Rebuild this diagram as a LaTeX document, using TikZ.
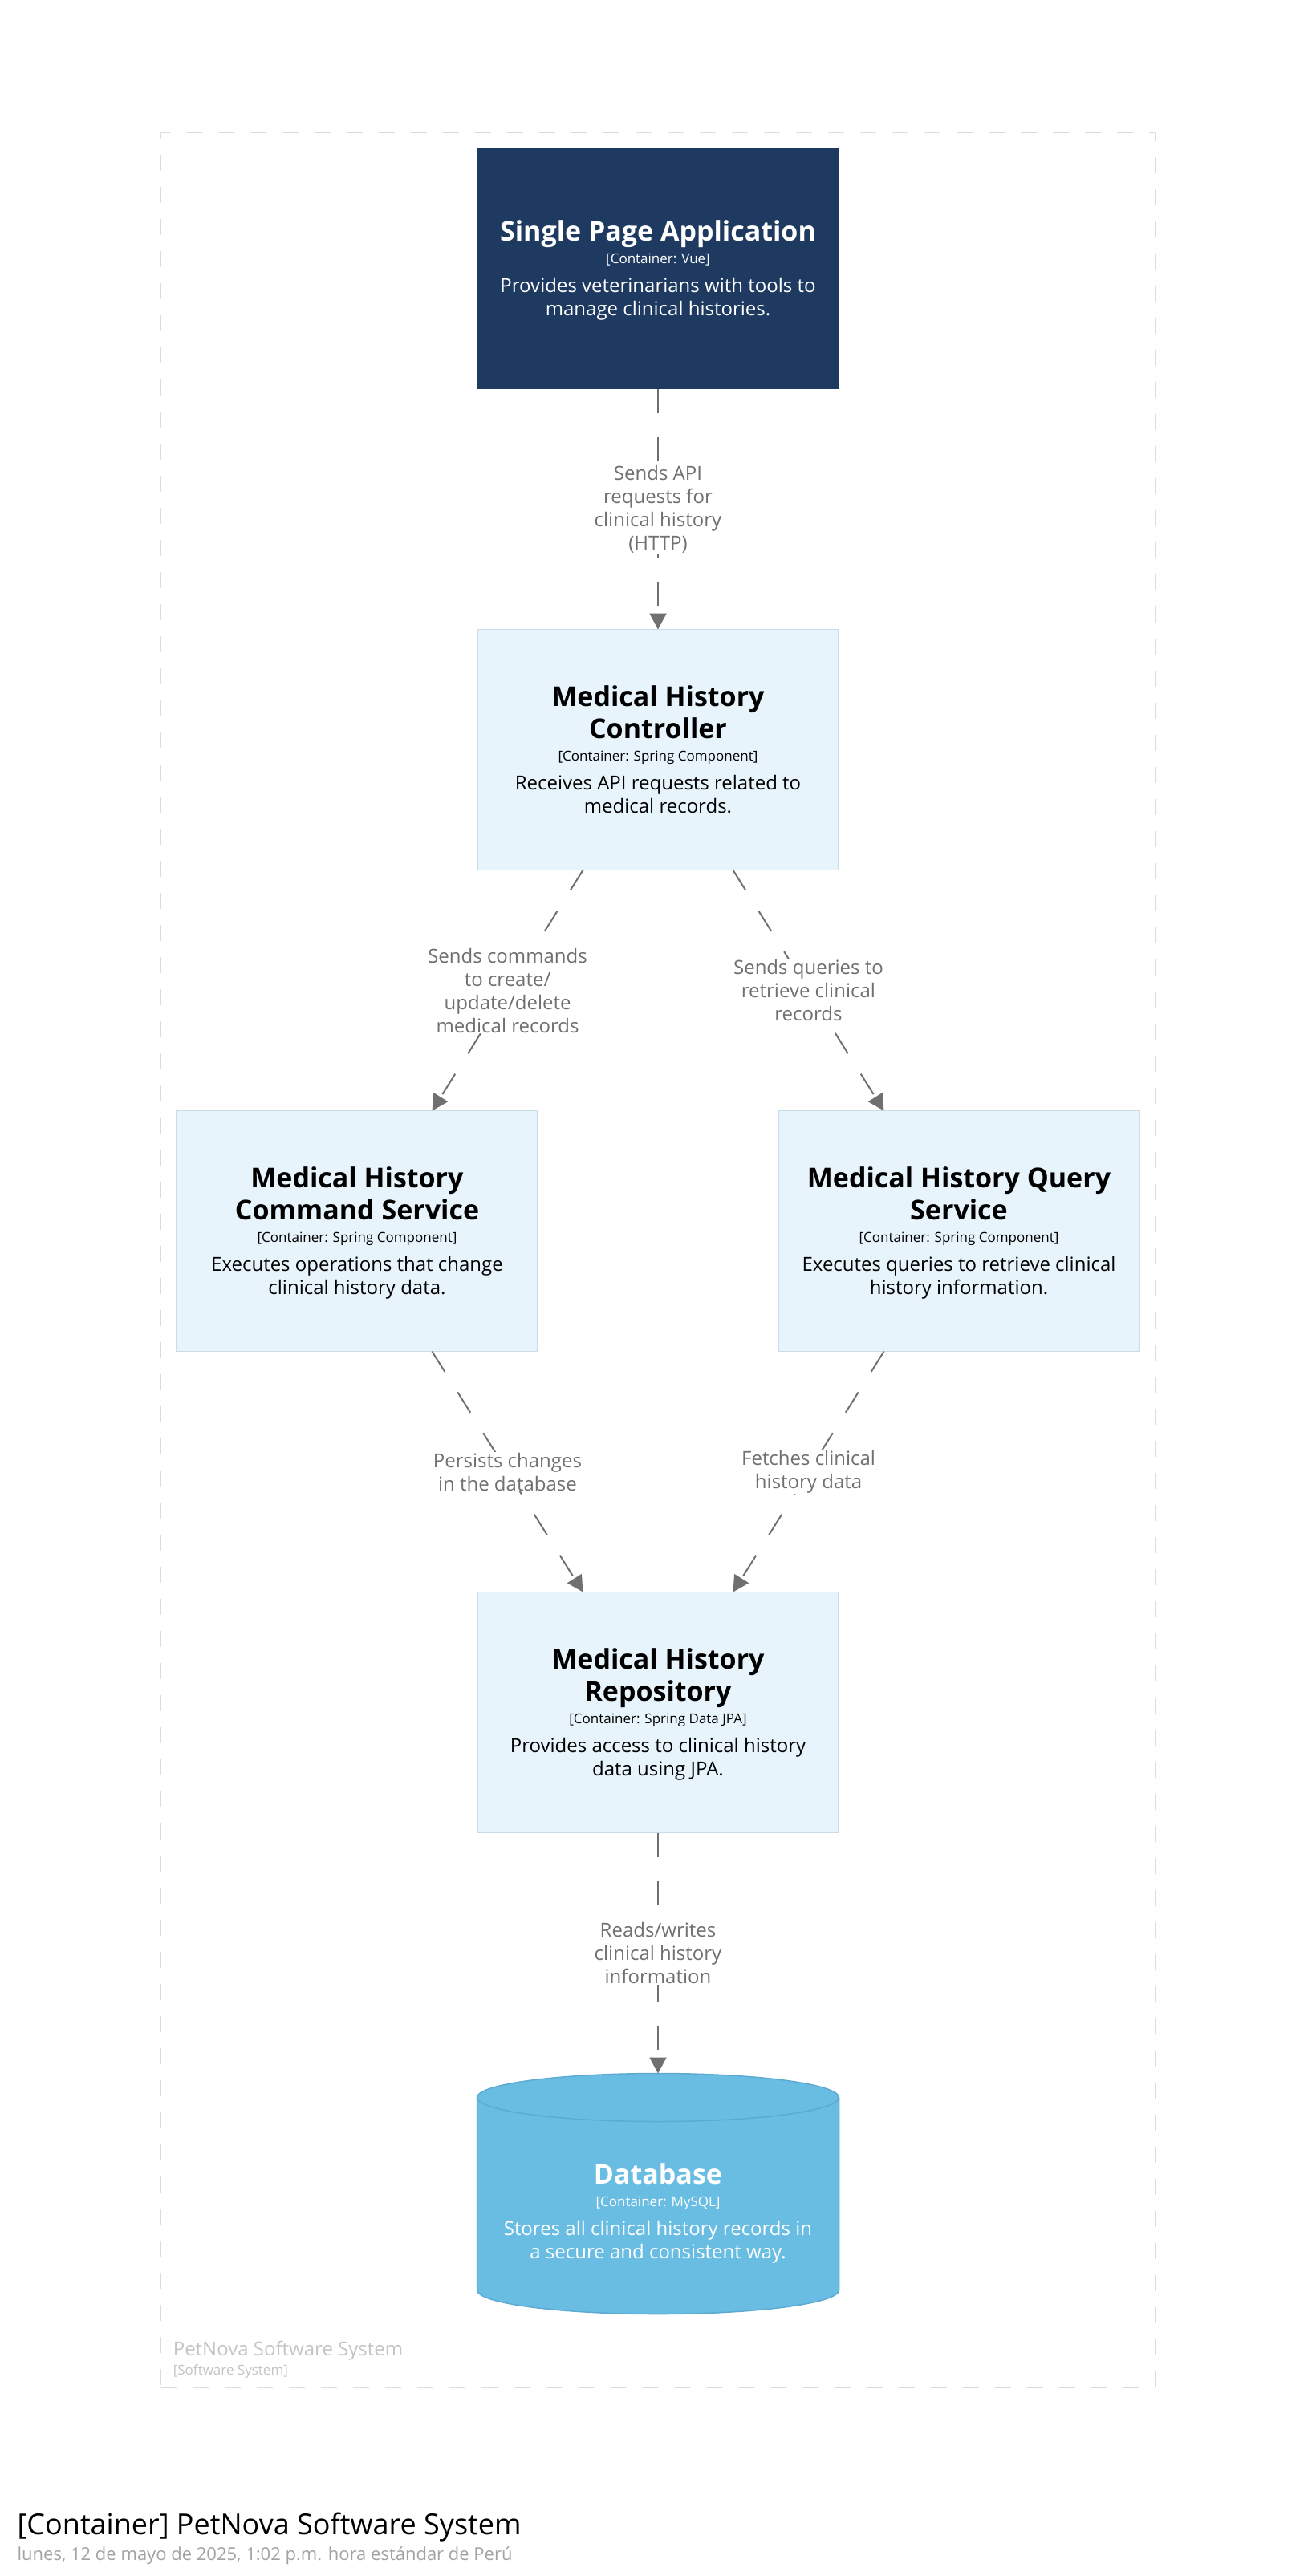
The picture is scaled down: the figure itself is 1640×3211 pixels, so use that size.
\documentclass[tikz,border=0pt]{standalone}
\usepackage{fontspec}
\setmainfont{Open Sans}
\usetikzlibrary{arrows.meta}
\definecolor{spafill}{HTML}{1F3A60}
\definecolor{lightfill}{HTML}{E8F4FB}
\definecolor{lightborder}{HTML}{CBDCE6}
\definecolor{dbfill}{HTML}{6ABDE2}
\definecolor{dbborder}{HTML}{5CAAD2}
\definecolor{relcol}{HTML}{707070}
\definecolor{bndcol}{HTML}{DCDCDC}
\definecolor{bndtext}{HTML}{C4C4C4}
\definecolor{datecol}{HTML}{A3A3A3}
\newcommand{\elemtext}[3]{%
\begin{minipage}{440pt}\centering
{\fontsize{34}{40}\selectfont\bfseries\rule{0pt}{32pt}#1\par}
{\fontsize{17}{28}\selectfont #2\par}
{\fontsize{24}{29}\selectfont\vspace*{7pt}#3\rule[-8pt]{0pt}{8pt}\par}
\end{minipage}}
\tikzset{
  elem/.style={rectangle, minimum width=450pt, minimum height=300pt, inner sep=0pt, outer sep=0pt, line width=1.5pt},
  lightelem/.style={elem, fill=lightfill, draw=lightborder, text=black},
  darkelem/.style={elem, fill=spafill, draw=spafill, text=white},
  rel/.style={draw=relcol, line width=2pt, dash pattern=on 30pt off 30pt, -{Triangle[length=20pt,width=21pt]}},
  rellabel/.style={fill=white, text=relcol, font=\fontsize{24}{29}\selectfont, align=center, inner sep=1pt},
  bndlabel/.style={anchor=base west, inner sep=0pt, text=bndtext},
}
\begin{document}
\begin{tikzpicture}[x=1pt,y=-1pt]
\useasboundingbox (0,0) rectangle (1640,3211);
\fill[white] (0,0) rectangle (1640,3211);
% boundary
\node[draw=bndcol, line width=2pt, dash pattern=on 20pt off 20pt, minimum width=1240.4pt, minimum height=2811.1pt, inner sep=0pt, outer sep=0pt] (bnd) at (820.2,1570.15) {};
\node[bndlabel, font=\fontsize{24}{29}\selectfont] (bndname) at (215.6,2936.7) {PetNova Software System};
\node[bndlabel, font=\fontsize{17}{20}\selectfont] (bndtype) at (215.6,2960.5) {[Software System]};
% elements
\node[darkelem] (spa) at (820,334.5) {\elemtext{Single Page Application}{[Container: Vue]}{Provides veterinarians with tools to\\manage clinical histories.}};
\node[lightelem] (ctrl) at (820,934.5) {\elemtext{Medical History\\Controller}{[Container: Spring Component]}{Receives API requests related to\\medical records.}};
\node[lightelem] (cmd) at (445,1534.5) {\elemtext{Medical History\\Command Service}{[Container: Spring Component]}{Executes operations that change\\clinical history data.}};
\node[lightelem] (qry) at (1195,1534.5) {\elemtext{Medical History Query\\Service}{[Container: Spring Component]}{Executes queries to retrieve clinical\\history information.}};
\node[lightelem] (repo) at (820,2134.5) {\elemtext{Medical History\\Repository}{[Container: Spring Data JPA]}{Provides access to clinical history\\data using JPA.}};
% database cylinder
\node[elem] (db) at (820,2734.5) {};
\draw[fill=dbfill, draw=dbborder, line width=1.5pt] (594.5,2614.5) -- (594.5,2854.5)
  arc[start angle=180, end angle=0, x radius=225.5, y radius=30] -- (1045.5,2614.5)
  arc[start angle=0, end angle=-180, x radius=225.5, y radius=30] -- cycle;
\draw[draw=dbborder, line width=1.5pt] (594.5,2614.5) arc[start angle=180, end angle=0, x radius=225.5, y radius=30];
\node[text=white, inner sep=0pt] (dbtext) at (820,2757.2) {\elemtext{Database}{[Container: MySQL]}{Stores all clinical history records in\\a secure and consistent way.}};
% relationships
\draw[rel] (spa) -- node[midway, rellabel] (l1) {Sends API\\requests for\\clinical history\\(HTTP)} (ctrl);
\draw[rel] (ctrl) -- node[midway, rellabel] (l2) {Sends commands\\to create/\\update/delete\\medical records} (cmd);
\draw[rel] (ctrl) -- node[midway, rellabel] (l3) {Sends queries to\\retrieve clinical\\records} (qry);
\draw[rel] (cmd) -- node[midway, rellabel] (l4) {Persists changes\\in the database} (repo);
\draw[rel] (qry) -- node[midway, rellabel] (l5) {Fetches clinical\\history data} (repo);
\draw[rel] (repo) -- node[midway, rellabel] (l6) {Reads/writes\\clinical history\\information} (db);
% title
\node[anchor=base west, inner sep=0pt, font=\fontsize{36}{43}\selectfont] (title) at (21.4,3159.3) {[Container] PetNova Software System};
\node[anchor=base west, inner sep=0pt, text=datecol, font=\fontsize{22}{26}\selectfont] (date) at (21.4,3191.7) {lunes, 12 de mayo de 2025, 1:02 p.m. hora estándar de Perú};
\end{tikzpicture}
\end{document}
